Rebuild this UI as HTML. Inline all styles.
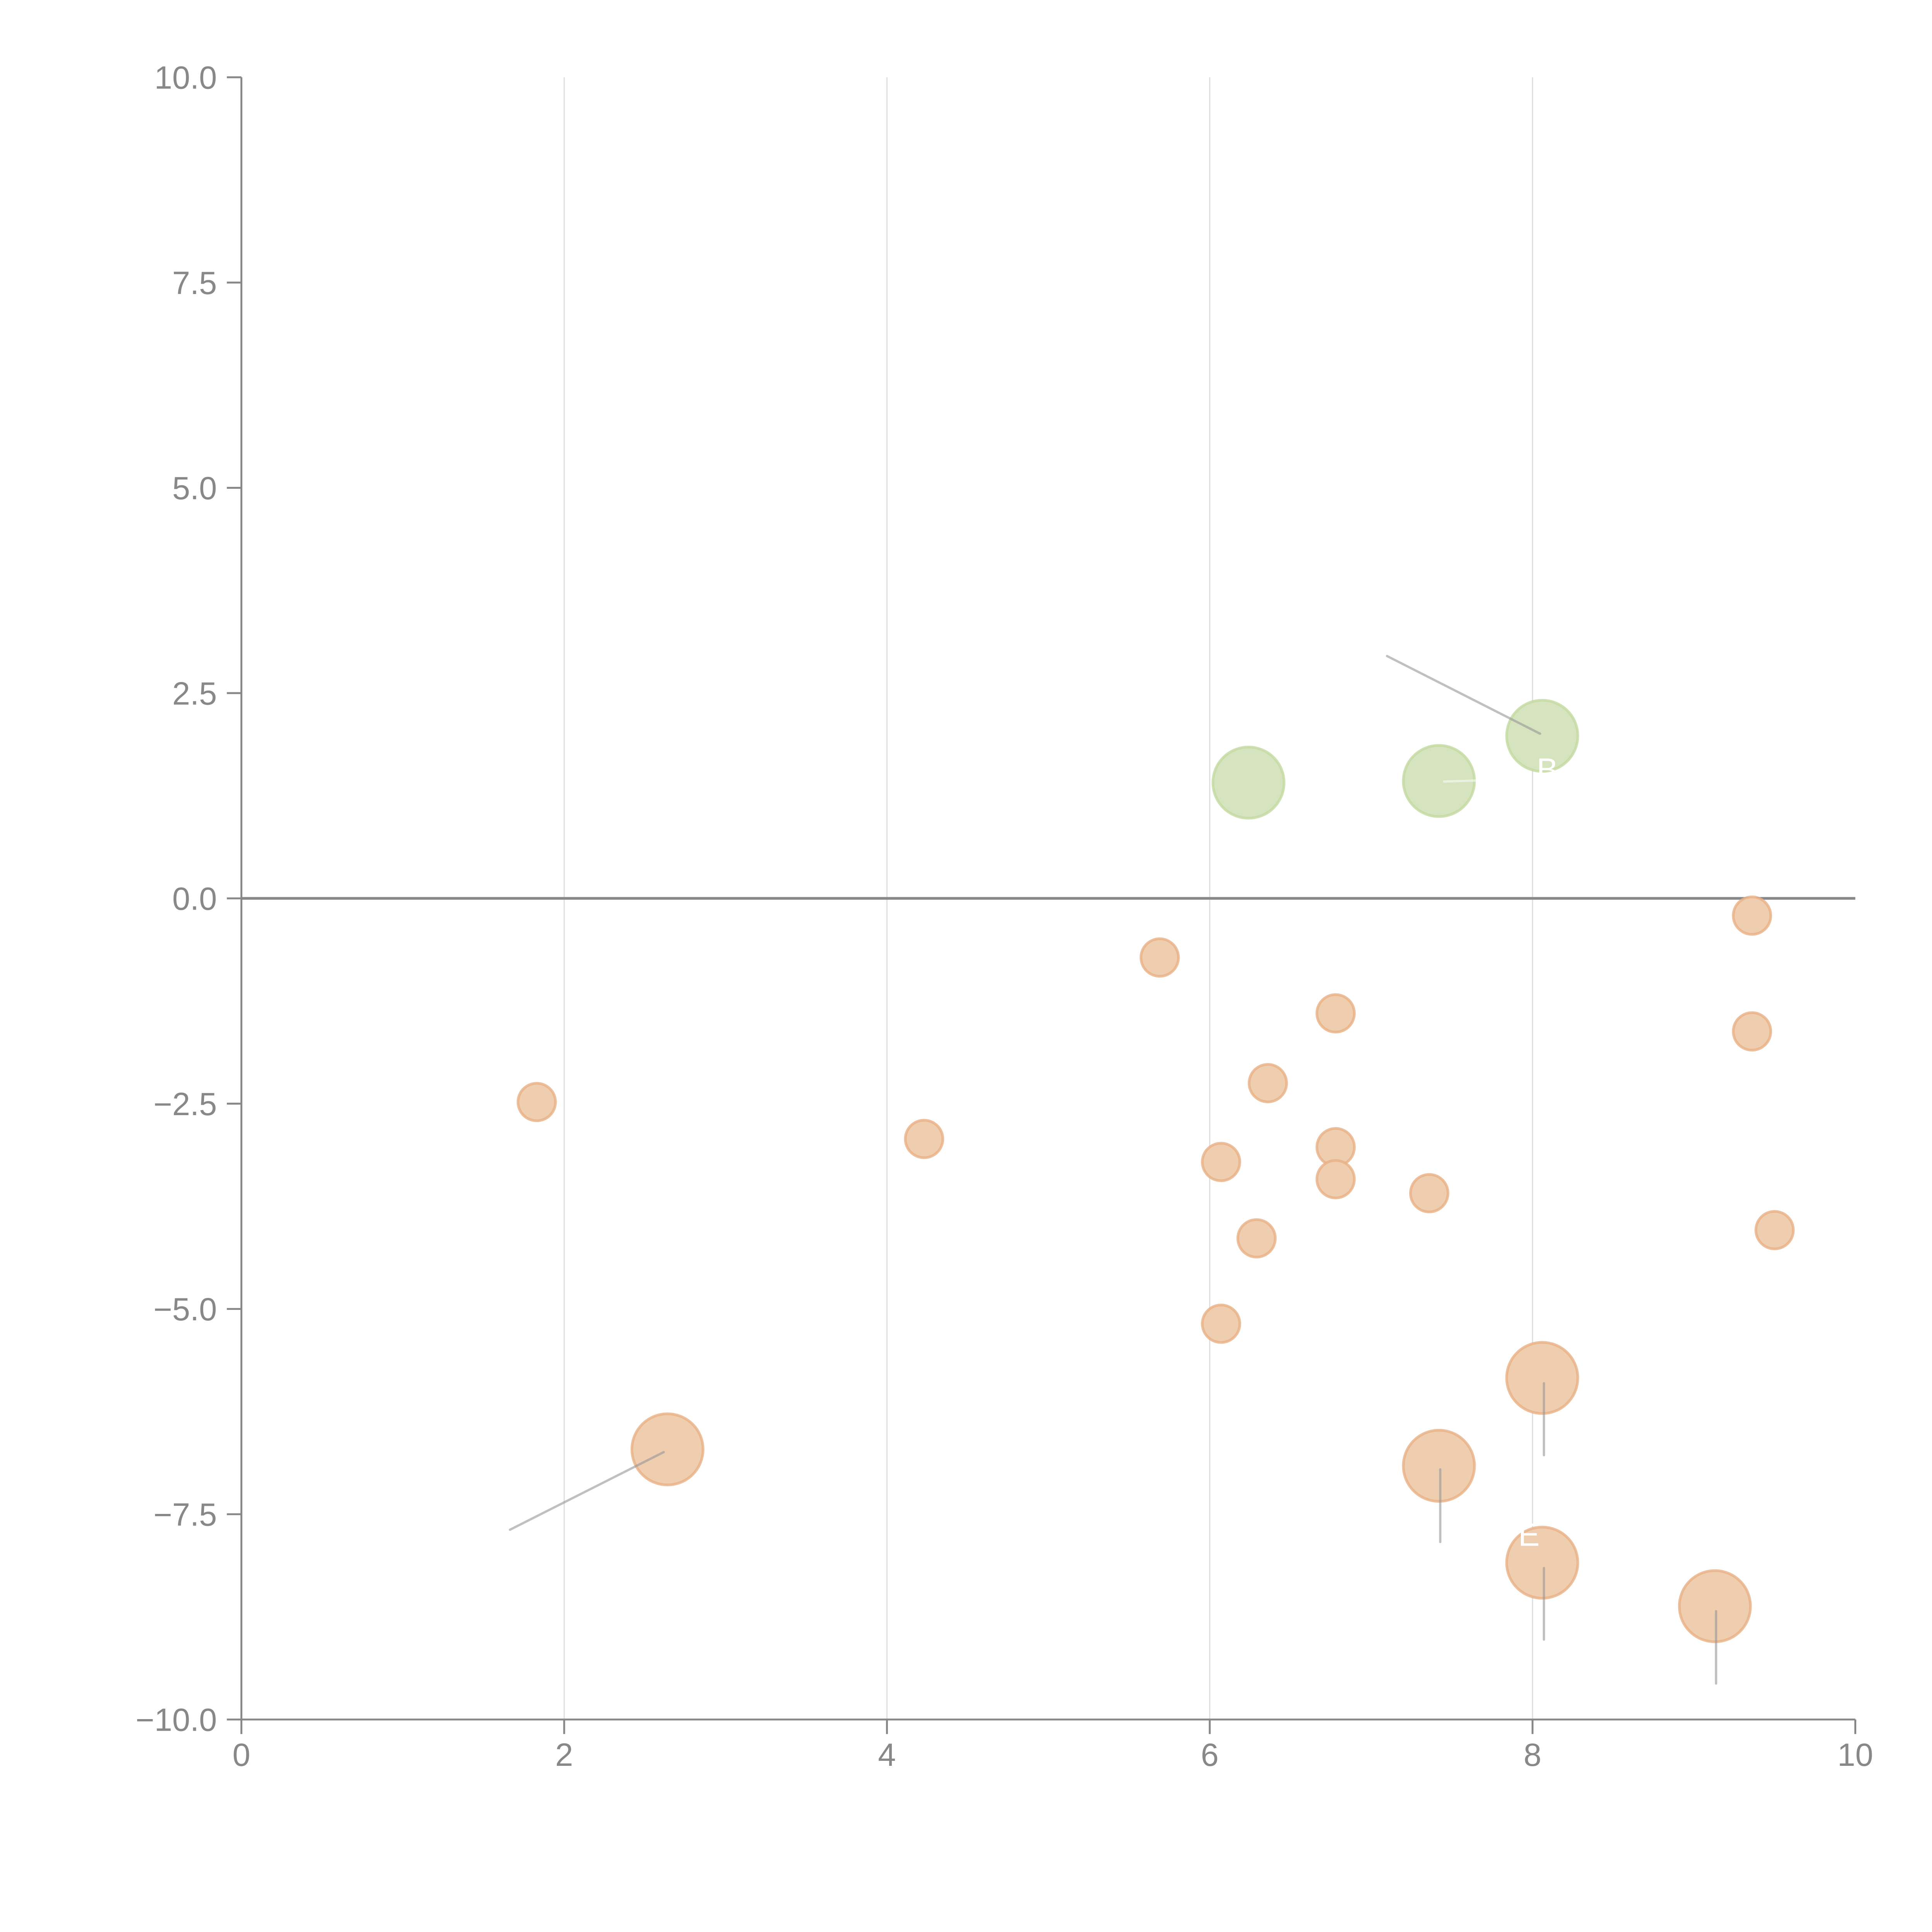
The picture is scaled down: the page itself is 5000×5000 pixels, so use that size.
<!DOCTYPE html>
<html><head><meta charset="utf-8"><style>html,body{margin:0;padding:0;background:#fff}svg{display:block}</style></head>
<body>
<svg id="chart" width="5000" height="5000" viewBox="0 0 5000 5000" xmlns="http://www.w3.org/2000/svg" font-family="Liberation Sans, Arial, sans-serif"><g id="root" transform="translate(2,1) scale(0.99)"></g></svg>
<script>
const xTicks = [0, 2, 4, 6, 8, 10];
const yTicks = [-10, -7.5, -5, -2.5, 0, 2.5, 5, 7.5, 10];
const yTickLabels = ["\u221210.0", "\u22127.5", "\u22125.0", "\u22122.5", "0.0", "2.5", "5.0", "7.5", "10.0"];
const greenX = [6.24, 7.42, 8.06];
const greenY = [1.41, 1.43, 1.98];
const bigX = [2.64, 7.42, 8.06, 8.06, 9.13];
const bigY = [-6.71, -6.91, -5.84, -8.09, -8.62];
const smallX = [1.83, 4.23, 5.69, 6.07, 6.07, 6.29, 6.36, 6.78, 6.78, 6.78, 7.36, 9.36, 9.36, 9.50];
const smallY = [-2.48, -2.93, -0.72, -3.21, -5.18, -4.14, -2.25, -1.40, -3.03, -3.42, -3.59, -0.21, -1.62, -4.04];

const X0 = 629, X1 = 4848, Y0 = 4494, Y1 = 201;
const sx = v => X0 + (v - 0) / 10 * (X1 - X0);
const sy = v => Y0 - (v + 10) / 20 * (Y0 - Y1);
const svg = document.getElementById('root');
const NS = 'http://www.w3.org/2000/svg';
function mk(tag, attrs, parent) {
  const e = document.createElementNS(NS, tag);
  for (const k in attrs) e.setAttribute(k, attrs[k]);
  (parent || svg).appendChild(e);
  return e;
}

xTicks.forEach(t => {
  if (t === 0 || t === 10) return;
  const g = mk('line', {x1: sx(t), x2: sx(t), y1: Y1, y2: Y0, stroke: '#dddddd', 'stroke-width': 3});
  
  
});
const z = mk('line', {x1: X0, x2: X1, y1: sy(0), y2: sy(0), stroke: '#888', 'stroke-width': 7});



const ya = mk('line', {x1: X0, x2: X0, y1: Y1, y2: Y0, stroke: '#888', 'stroke-width': 5});


const xa = mk('line', {x1: X0, x2: X1, y1: Y0, y2: Y0, stroke: '#888', 'stroke-width': 5});



yTicks.forEach((t, i) => {
  const tk = mk('line', {x1: X0 - 38, x2: X0, y1: sy(t), y2: sy(t), stroke: '#888', 'stroke-width': 5});
  
  
  const tx = mk('text', {x: 565, y: sy(t) + 30, 'text-anchor': 'end', 'font-size': 84, fill: '#888'});
  tx.textContent = yTickLabels[i];
  
  
});
xTicks.forEach(t => {
  const tk = mk('line', {x1: sx(t), x2: sx(t), y1: Y0, y2: Y0 + 38, stroke: '#888', 'stroke-width': 5});
  
  
  const tx = mk('text', {x: sx(t), y: 4615, 'text-anchor': 'middle', 'font-size': 84, fill: '#888'});
  tx.textContent = String(t);
  
  
});

function bubble(x, y, r, fill, stroke, name) {
  const c = mk('circle', {cx: sx(x), cy: sy(y), r: r, fill: fill, stroke: stroke, 'stroke-width': 7, 'stroke-opacity': 0.8});
  
  
}
greenX.forEach((x, i) => bubble(x, greenY[i], 93, '#d6e3bf', '#c3d9a0', 'green-bubble'));
bigX.forEach((x, i) => bubble(x, bigY[i], 93, '#efcdaf', '#e9b084', 'large-orange-bubble'));
smallX.forEach((x, i) => bubble(x, smallY[i], 49, '#efcdaf', '#e9b084', 'small-orange-bubble'));

function leader(x1, y1, x2, y2, col) {
  const l = mk('line', {x1: x1, y1: y1, x2: x2, y2: y2, stroke: col, 'stroke-width': 6, 'stroke-linecap': 'round'});
  
  
}
leader(3624, 1714, 4024, 1917, 'rgba(150,150,150,0.6)');
leader(3773, 2042, 3866, 2039, 'rgba(255,255,255,0.5)');
leader(1331, 3998, 1733, 3795, 'rgba(150,150,150,0.6)');
leader(3763, 3840, 3763, 4030, 'rgba(150,150,150,0.6)');
leader(4034, 3615, 4034, 3803, 'rgba(150,150,150,0.6)');
leader(4034, 4098, 4034, 4285, 'rgba(150,150,150,0.6)');
leader(4484, 4211, 4484, 4400, 'rgba(150,150,150,0.6)');

const lb = mk('text', {x: 4043, y: 2040, 'text-anchor': 'middle', 'font-size': 84, fill: '#fff'});
lb.textContent = 'B';


const le = mk('text', {x: 3995, y: 4040, 'text-anchor': 'middle', 'font-size': 84, fill: '#fff'});
le.textContent = 'E';


</script>
</body></html>
